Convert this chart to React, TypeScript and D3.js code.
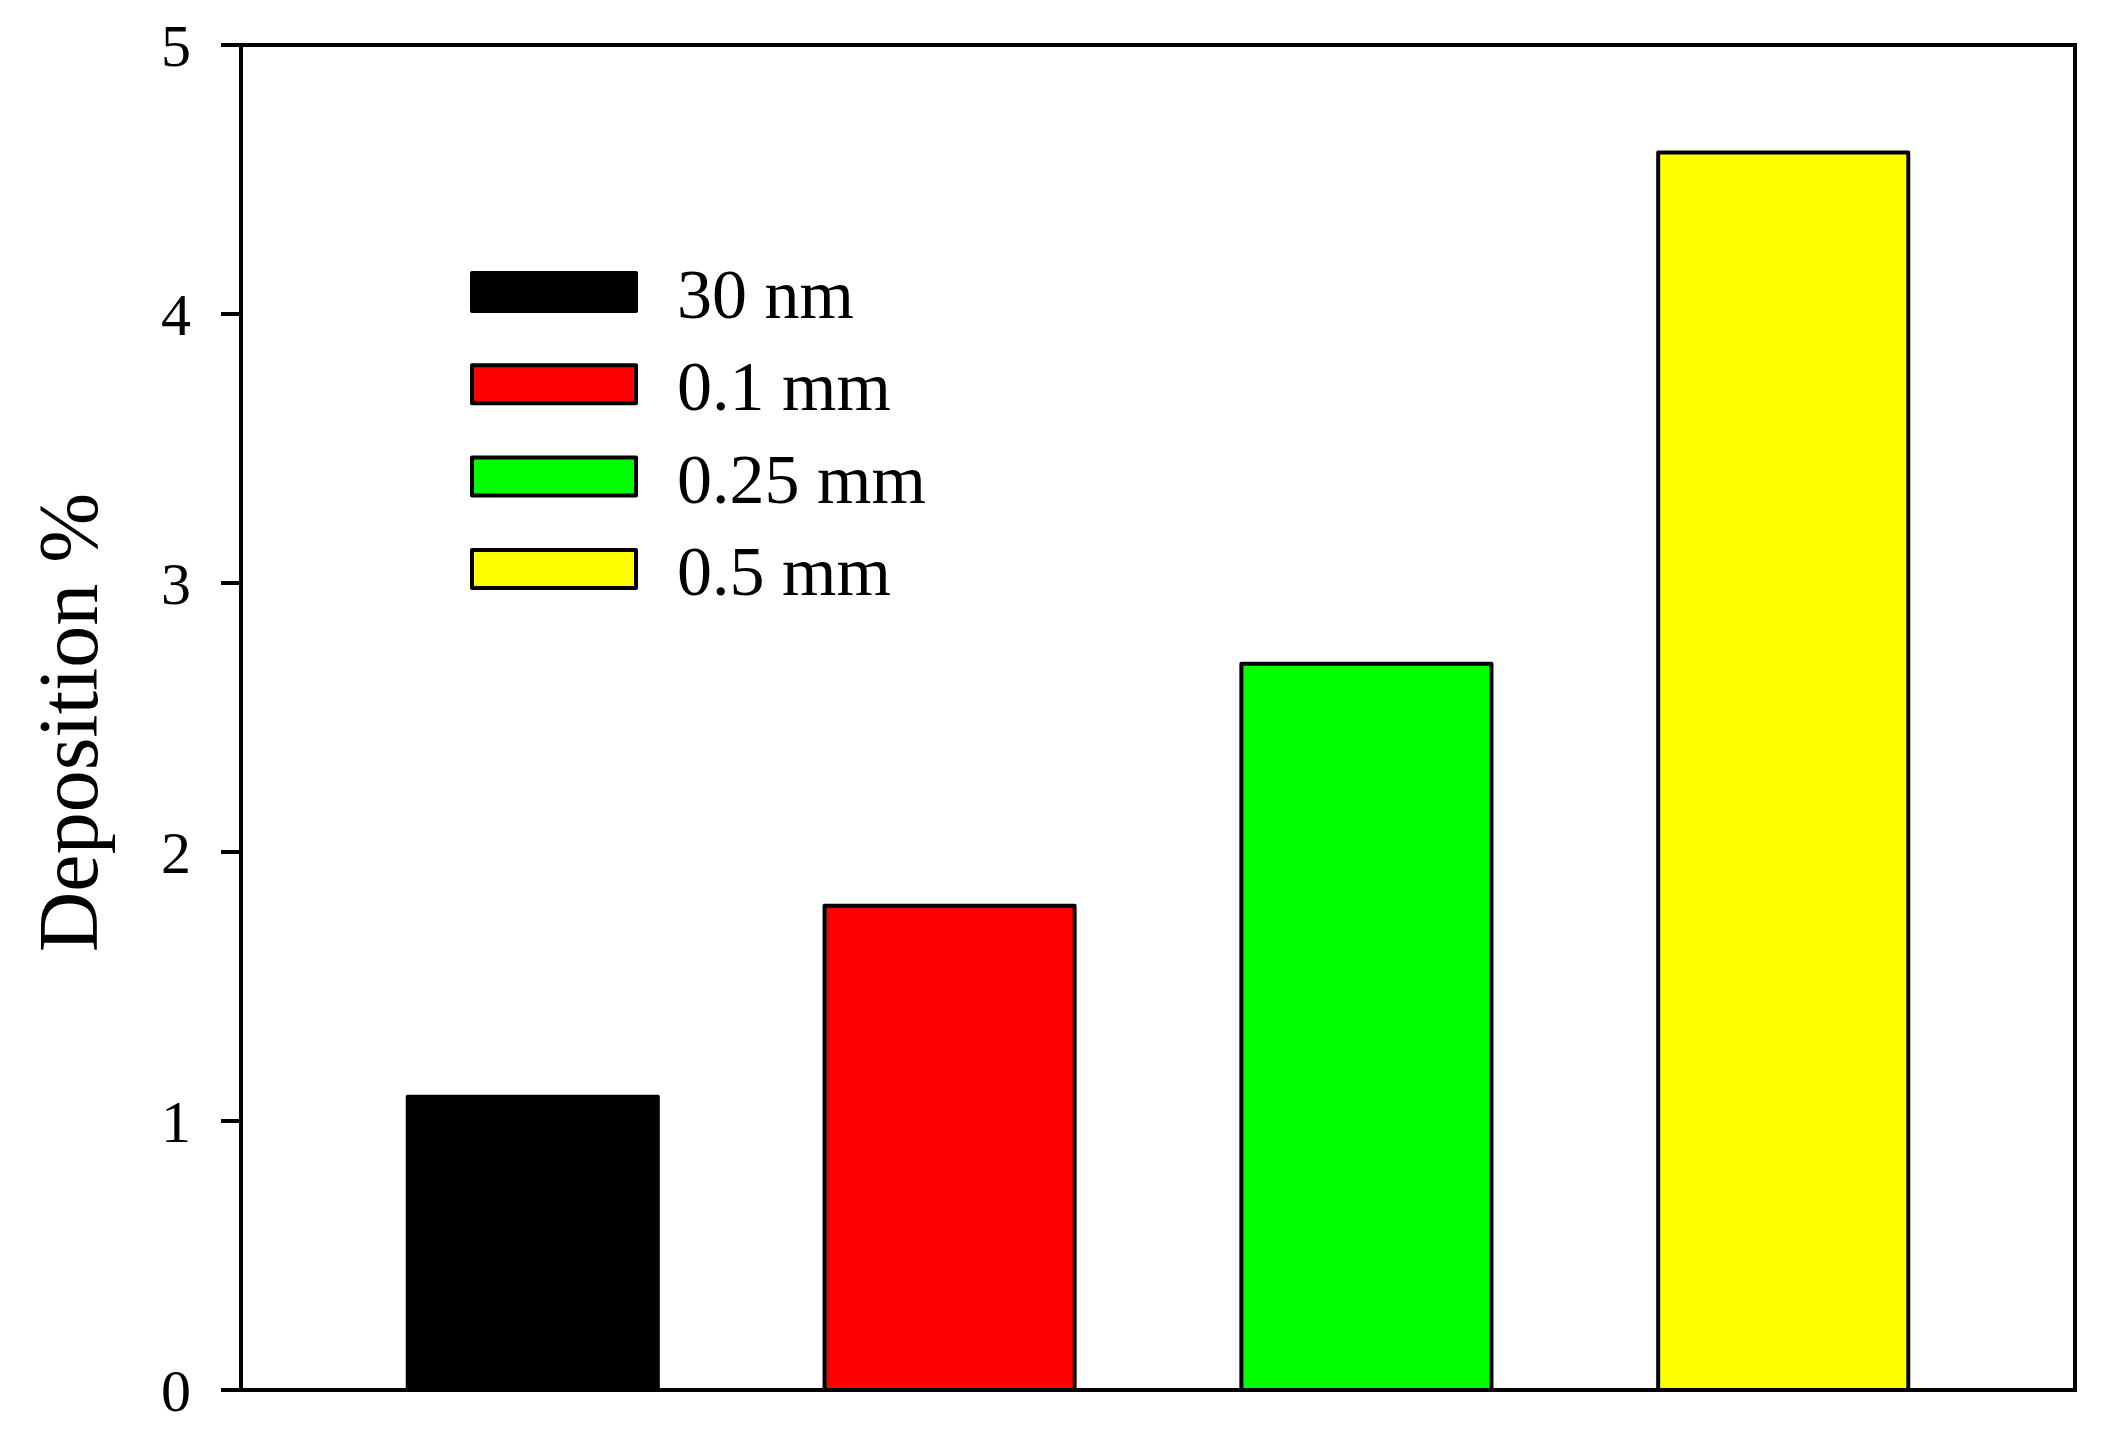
import React from "react";
import * as d3 from "d3";

const categories = ["30 nm", "0.1 mm", "0.25 mm", "0.5 mm"];
const values = [1.09, 1.8, 2.7, 4.6];
const colors = ["#000000", "#FF0000", "#00FF00", "#FFFF00"];
const yTicks = [0, 1, 2, 3, 4, 5];
const yLabel = "Deposition %";

const W = 2101;
const H = 1431;
const M = { left: 241, right: 2075, top: 45, bottom: 1390 };
const FONT = "'Liberation Serif', 'Times New Roman', Times, serif";

export default function App() {
  const x = d3
    .scaleBand<string>()
    .domain(categories)
    .range([M.left, M.right])
    .paddingInner(0.4)
    .paddingOuter(0.4);
  const y = d3.scaleLinear().domain([0, 5]).range([M.bottom, M.top]);

  const legendX = 472;
  const legendY0 = 273;
  const legendStep = 92.3;
  const legendW = 164;
  const legendH = 38;

  return (
    <svg
      width={W}
      height={H}
      style={{ position: "absolute", left: 0, top: 0, display: "block", background: "#fff" }}
      fontFamily={FONT}
    >
      <rect x={0} y={0} width={W} height={H} fill="#fff" />
      {/* bars */}
      {categories.map((c, i) => (
        <rect
          key={c}
          x={x(c)}
          y={y(values[i])}
          width={x.bandwidth()}
          height={y(0) - y(values[i])}
          fill={colors[i]}
          stroke="#000"
          strokeWidth={4}
          strokeLinejoin="round"
        />
      ))}
      {/* frame */}
      <rect
        x={M.left}
        y={M.top}
        width={M.right - M.left}
        height={M.bottom - M.top}
        fill="none"
        stroke="#000"
        strokeWidth={4}
      />
      {/* y ticks */}
      {yTicks.map((t) => (
        <g key={t}>
          <line x1={M.left - 20} x2={M.left} y1={y(t)} y2={y(t)} stroke="#000" strokeWidth={4} />
          <text x={191} y={y(t) + 20.5} fontSize={60} textAnchor="end" fill="#000">
            {t}
          </text>
        </g>
      ))}
      {/* y label */}
      <text
        transform={`translate(97, ${(M.top + M.bottom) / 2 + 5}) rotate(-90)`}
        fontSize={84}
        textAnchor="middle"
        fill="#000"
      >
        {yLabel}
      </text>
      {/* legend */}
      {categories.map((c, i) => (
        <g key={"lg" + c}>
          <rect
            x={legendX}
            y={legendY0 + i * legendStep}
            width={legendW}
            height={legendH}
            fill={colors[i]}
            stroke="#000"
            strokeWidth={4}
            strokeLinejoin="round"
          />
          <text x={677} y={legendY0 + i * legendStep + 45} fontSize={70} fill="#000">
            {c}
          </text>
        </g>
      ))}
    </svg>
  );
}
